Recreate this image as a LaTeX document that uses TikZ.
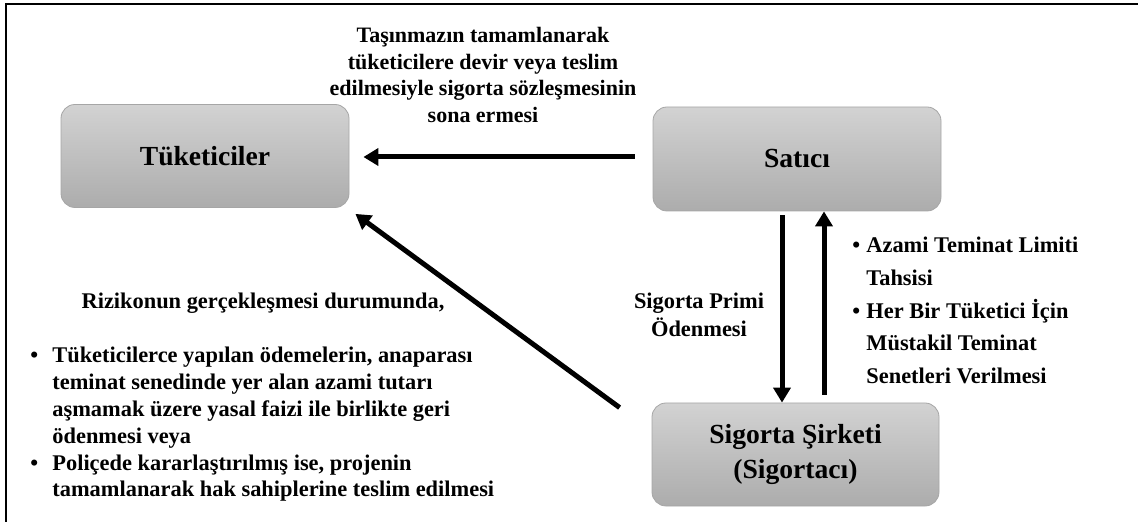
\documentclass[tikz,border=0pt]{standalone}
\usepackage{fontspec}
\setmainfont{Liberation Serif}
\usetikzlibrary{arrows.meta}

\begin{document}
\begin{tikzpicture}[x=0.5pt, y=-0.5pt, >={Triangle[length=7.5pt, width=8.5pt]},
  party/.style={rectangle, rounded corners=7pt, draw=gray!70, thin,
    top color=gray!35, bottom color=gray!65, inner sep=0pt,
    font=\fontsize{13.8}{17.5}\selectfont\bfseries, align=center},
  flow/.style={->, line width=2.5pt},
  note/.style={inner sep=0pt, font=\fontsize{11.2}{13.4}\selectfont\bfseries}]
  \useasboundingbox (0,0) rectangle (1138,522);
  % frame
  \draw[line width=1.2pt] (6,522) -- (6,4) -- (1138,4);
  % parties
  \node[party, minimum width=144pt, minimum height=51.5pt] (tuketici) at (205,156) {Tüketiciler};
  \node[party, minimum width=144pt, minimum height=52pt] (satici) at (797,159) {Satıcı};
  \node[party, minimum width=143.5pt, minimum height=51.5pt] (sirket) at (795.5,454.5)
    {Sigorta Şirketi\\(Sigortacı)};
  % connectors
  \draw[flow, shorten <=9pt, shorten >=7pt] (satici.west |- 0,157) -- (tuketici.east |- 0,157);
  \draw[flow, shorten <=2pt] ([xshift=-7.5pt]satici.south) -- ([xshift=-7.5pt]satici.south |- sirket.north);
  \draw[flow, shorten <=4pt] ([xshift=13.5pt]satici.south |- sirket.north) -- ([xshift=13.5pt]satici.south);
  \draw[flow] ([shift={(-16pt,-2.5pt)}]sirket.north west) -- ([shift={(3pt,-3pt)}]tuketici.south east);
  % labels
  \node[note, align=center, font=\fontsize{11}{13.3}\selectfont\bfseries] (sona) at (483,75)
    {Taşınmazın tamamlanarak\\tüketicilere devir veya teslim\\edilmesiyle sigorta sözleşmesinin\\sona ermesi};
  \node[note, align=center, font=\fontsize{11.2}{14}\selectfont\bfseries] (prim) at (699,315)
    {Sigorta Primi\\Ödenmesi};
  \node[note, anchor=north west, align=left, font=\fontsize{11.2}{16.3}\selectfont\bfseries] (teminat) at (852,237)
    {\makebox[7pt][l]{•}Azami Teminat Limiti\\
     \hspace*{7pt}Tahsisi\\
     \makebox[7pt][l]{•}Her Bir Tüketici İçin\\
     \hspace*{7pt}Müstakil Teminat\\
     \hspace*{7pt}Senetleri Verilmesi};
  \node[note] (riziko) at (263,303) {Rizikonun gerçekleşmesi durumunda,};
  \node[note, anchor=north west, align=left] (odeme) at (30,347)
    {\makebox[11pt][l]{•}Tüketicilerce yapılan ödemelerin, anaparası\\
     \hspace*{11pt}teminat senedinde yer alan azami tutarı\\
     \hspace*{11pt}aşmamak üzere yasal faizi ile birlikte geri\\
     \hspace*{11pt}ödenmesi veya\\
     \makebox[11pt][l]{•}Poliçede kararlaştırılmış ise, projenin\\
     \hspace*{11pt}tamamlanarak hak sahiplerine teslim edilmesi};
\end{tikzpicture}
\end{document}
